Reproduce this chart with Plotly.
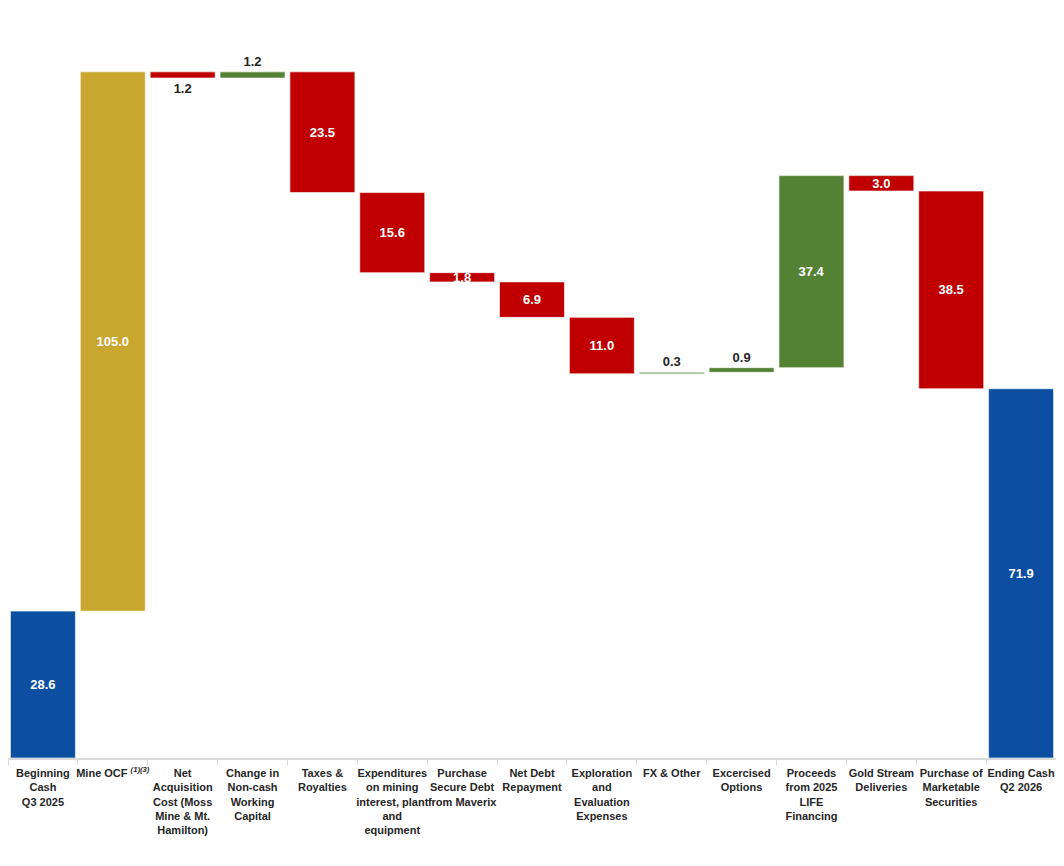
import plotly.graph_objects as go

categories = [
    "Beginning<br>Cash<br>Q3 2025",
    "Mine OCF <sup><i>(1)(3)</i></sup>",
    "Net<br>Acquisition<br>Cost (Moss<br>Mine & Mt.<br>Hamilton)",
    "Change in<br>Non-cash<br>Working<br>Capital",
    "Taxes &<br>Royalties",
    "Expenditures<br>on mining<br>interest, plant<br>and<br>equipment",
    "Purchase<br>Secure Debt<br>from Maverix",
    "Net Debt<br>Repayment",
    "Exploration<br>and<br>Evaluation<br>Expenses",
    "FX & Other",
    "Excercised<br>Options",
    "Proceeds<br>from 2025<br>LIFE<br>Financing",
    "Gold Stream<br>Deliveries",
    "Purchase of<br>Marketable<br>Securities",
    "Ending Cash<br>Q2 2026",
]
values = [28.6, 105.0, -1.2, 1.2, -23.5, -15.6, -1.8, -6.9, -11.0, 0.3, 0.9, 37.4, -3.0, -38.5, 71.9]
kinds = ["total", "ocf", "delta", "delta", "delta", "delta", "delta", "delta", "delta",
         "delta", "delta", "delta", "delta", "delta", "total"]
label_outside = [False, False, True, True, False, False, False, False, False, True, True, False, False, False, False]

BLUE = "#0B4EA2"
GOLD = "#C9A62E"
RED = "#C00000"
GREEN = "#548235"

bases, heights, colors, texts, positions, tcolors = [], [], [], [], [], []
run = 0.0
for v, k, out in zip(values, kinds, label_outside):
    if k == "total":
        bases.append(0)
        heights.append(v)
        run = v
        colors.append(BLUE)
    else:
        bases.append(run)
        heights.append(v)
        run += v
        if k == "ocf":
            colors.append(GOLD)
        else:
            colors.append(GREEN if v > 0 else RED)
    texts.append(f"{abs(v):.1f}")
    positions.append("outside" if out else "inside")
    tcolors.append("#262626" if out else "white")

FONT = "Liberation Sans, Arial"

fig = go.Figure(go.Bar(
    x=categories,
    y=heights,
    base=bases,
    marker=dict(color=colors, line=dict(color="rgba(255,255,255,0.6)", width=1)),
    width=0.93,
    text=texts,
    textposition=positions,
    textangle=0,
    constraintext="none",
    insidetextanchor="middle",
    textfont=dict(family=FONT, size=13, color=tcolors, weight="bold"),
    cliponaxis=False,
    hoverinfo="skip",
))

fig.update_layout(
    width=1048, height=850,
    margin=dict(l=0, r=0, t=31, b=100),
    paper_bgcolor="white",
    plot_bgcolor="white",
    showlegend=False,
    bargap=0.07,
    font=dict(family=FONT),
)
fig.update_xaxes(
    type="category",
    showline=True, linecolor="#D9D9D9", linewidth=1.5,
    ticks="outside", tickson="boundaries", ticklen=5, tickcolor="#D9D9D9",
    tickfont=dict(family=FONT, size=11, color="#262626", weight="bold"),
    ticklabelstandoff=4,
    tickangle=0,
    showgrid=False,
)
fig.update_yaxes(range=[0, 140], visible=False, showgrid=False, zeroline=False)

fig.write_html("out.html")
